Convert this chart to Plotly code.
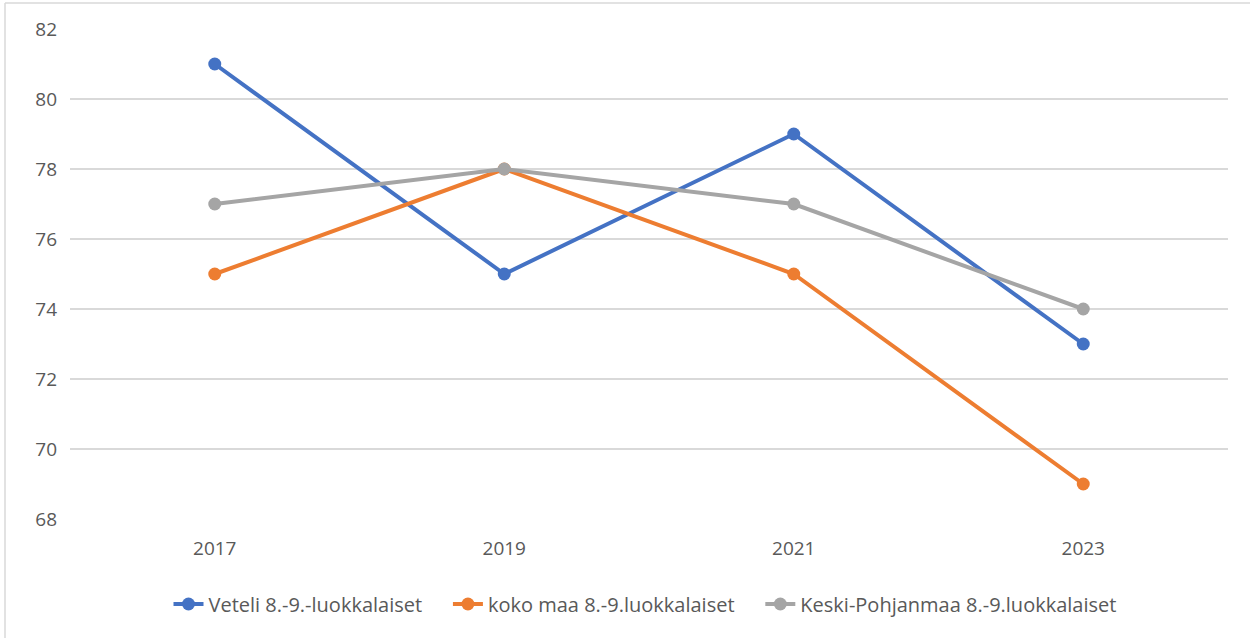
import plotly.graph_objects as go

years = ["2017", "2019", "2021", "2023"]
veteli = [81, 75, 79, 73]
koko_maa = [75, 78, 75, 69]
keski_pohjanmaa = [77, 78, 77, 74]

series = [
    ("Veteli 8.-9.-luokkalaiset", veteli, "#4472C4"),
    ("koko maa 8.-9.luokkalaiset", koko_maa, "#ED7D31"),
    ("Keski-Pohjanmaa 8.-9.luokkalaiset", keski_pohjanmaa, "#A5A5A5"),
]

# extra padding after each legend label widens the gap between entries
PAD = "\u00a0" * 4

fig = go.Figure()
for i, (name, vals, color) in enumerate(series):
    fig.add_trace(go.Scatter(
        x=years, y=vals, name=name + (PAD if i < len(series) - 1 else ""),
        mode="lines+markers",
        line=dict(color=color, width=4),
        marker=dict(color=color, size=13),
    ))

W, H = 1250, 638
ml, mr, mt, mb = 70, 22, 29, 119
pw, ph = W - ml - mr, H - mt - mb

# light frame around the chart area
frame = dict(color="#d9d9d9", width=1.5)
fig.add_shape(type="line", xref="paper", yref="paper",
              x0=(5 - ml) / pw, x1=(W - ml) / pw,
              y0=1 + (mt - 3) / ph, y1=1 + (mt - 3) / ph, line=frame)
fig.add_shape(type="line", xref="paper", yref="paper",
              x0=(5 - ml) / pw, x1=(5 - ml) / pw,
              y0=1 + (mt - 3) / ph, y1=-(H - mt - ph) / ph - 0.01, line=frame)

fig.update_layout(
    width=W, height=H,
    margin=dict(l=ml, r=mr, t=mt, b=mb),
    paper_bgcolor="white", plot_bgcolor="white",
    font=dict(family="Open Sans", size=19, color="#595959"),
    xaxis=dict(type="category", range=[-0.5, 3.5], showgrid=False,
               showline=False, ticks="", tickfont=dict(size=19), ticklabelstandoff=16),
    yaxis=dict(range=[68, 82], dtick=2, showgrid=True, gridcolor="#d9d9d9",
               gridwidth=1.5, zeroline=False, showline=False, ticks="",
               tickfont=dict(size=19), ticklabelstandoff=12),
    legend=dict(orientation="h", x=(645 - ml) / pw, xanchor="center",
                y=(519 - 604) / ph, yanchor="middle",
                font=dict(size=20, color="#595959"), itemwidth=30),
    showlegend=True,
)

fig.write_html("out.html")
